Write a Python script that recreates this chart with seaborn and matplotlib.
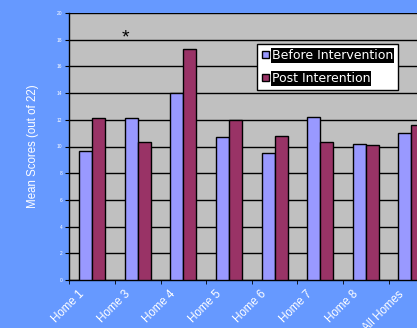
import matplotlib
matplotlib.use("Agg")
import matplotlib.pyplot as plt
import matplotlib.transforms as mtransforms
import seaborn as sns
import pandas as pd
import numpy as np

categories = ["Home 1", "Home 3", "Home 4", "Home 5", "Home 6", "Home 7", "Home 8", "All Homes"]
before = [9.7, 12.1, 14.0, 10.7, 9.5, 12.2, 10.2, 11.0]
post = [12.1, 10.3, 17.3, 12.0, 10.8, 10.3, 10.1, 11.6]
series = ["Before Intervention", "Post Interention"]
yticks = list(range(0, 21, 2))

df = pd.DataFrame({
    "cat": categories * 2,
    "val": before + post,
    "series": [series[0]] * len(categories) + [series[1]] * len(categories),
})

sns.set_style("white")
plt.rcParams["font.family"] = ["Liberation Sans", "DejaVu Sans"]

fig = plt.figure(figsize=(4.17, 3.28), dpi=100)
fig.patch.set_facecolor("#6699FF")
ax = fig.add_axes([69.3 / 417, 48 / 328, 365 / 417, 267 / 328])
ax.set_facecolor("#C0C0C0")

sns.barplot(data=df, x="cat", y="val", hue="series", order=categories,
            hue_order=series, palette=["#9999FF", "#993366"], width=0.57,
            edgecolor="black", linewidth=1.0, saturation=1, ax=ax, zorder=3)

ax.set_ylim(0, 20)
ax.set_xlim(-0.5, len(categories) - 0.5)
ax.set_yticks(yticks)
ax.set_yticklabels([str(t) for t in yticks], fontsize=3.5, color="white")
ax.yaxis.grid(True, color="black", linewidth=1.0, zorder=0)
ax.set_axisbelow(True)
ax.tick_params(axis="y", direction="out", length=3, color="black", pad=2, left=True)

ax.set_xticks(range(len(categories)))
ax.set_xticklabels(categories, rotation=45, ha="right", rotation_mode="anchor",
                   fontsize=8.3, color="white")
ax.tick_params(axis="x", which="major", length=0, pad=6)
offset = mtransforms.ScaledTranslation(-14 / 100, 0, fig.dpi_scale_trans)
for lbl in ax.get_xticklabels():
    lbl.set_transform(lbl.get_transform() + offset)
ax.set_xticks(np.arange(-0.5, len(categories), 1.0), minor=True)
ax.tick_params(axis="x", which="minor", direction="out", length=3, color="black", bottom=True)

for s in ["top", "right"]:
    ax.spines[s].set_visible(False)
for s in ["left", "bottom"]:
    ax.spines[s].set_color("black")
    ax.spines[s].set_linewidth(1.0)

ax.set_xlabel("")
ax.set_ylabel("Mean Scores (out of 22)", color="white", fontsize=8.3, labelpad=13)

ax.text(0.74, 18.1, "*", fontsize=14, ha="center", va="center", color="black")

leg = ax.legend(loc="upper left", bbox_to_anchor=(0.514, 0.884), frameon=True,
                fancybox=False, shadow=False, prop={"family": "DejaVu Sans", "size": 9.0},
                handlelength=0.55, handleheight=0.55, handletextpad=0.25,
                borderpad=0.4, labelspacing=0.8, borderaxespad=0)
leg.get_frame().set_facecolor("white")
leg.get_frame().set_edgecolor("black")
leg.get_frame().set_linewidth(1.0)
leg.get_frame().set_alpha(1)
for t in leg.get_texts():
    t.set_color("white")
    t.set_bbox(dict(facecolor="black", edgecolor="none", pad=0.5))

fig.savefig("out.png", dpi=100, facecolor=fig.get_facecolor())
